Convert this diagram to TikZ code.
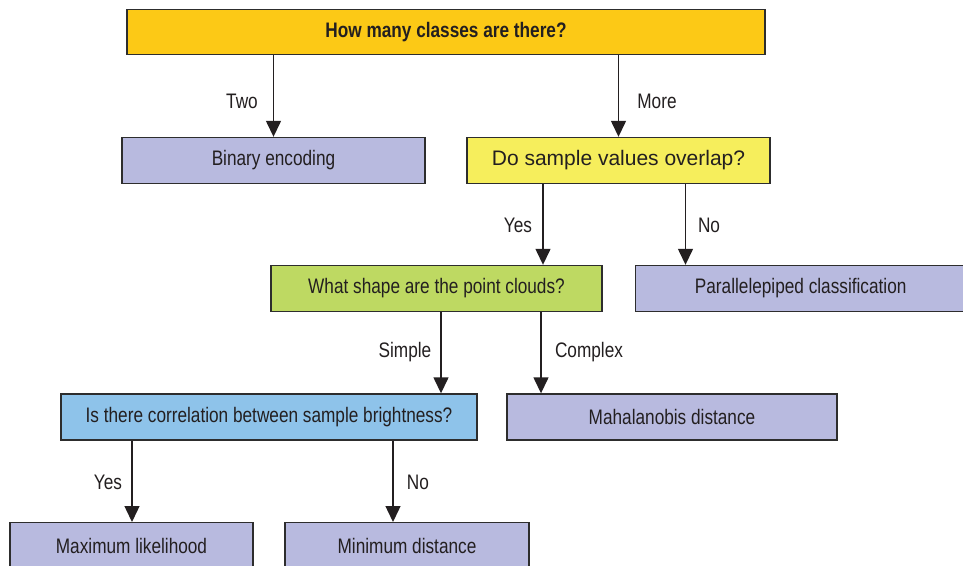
\documentclass[tikz,border=0pt]{standalone}
\usepackage{fontspec}
\usetikzlibrary{arrows.meta}
\newfontfamily\condfont{Liberation Sans}[FakeStretch=0.82]
\newfontfamily\widefont{Liberation Sans}
\definecolor{ink}{HTML}{231F20}
\definecolor{cOrange}{HTML}{FCC916}
\definecolor{cLav}{HTML}{B8BADF}
\definecolor{cYellow}{HTML}{F6EE5C}
\definecolor{cGreen}{HTML}{BED962}
\definecolor{cBlue}{HTML}{8EC3EA}
\definecolor{cLine}{HTML}{2D2D2D}
\tikzset{
  box/.style={draw=cLine, line width=1.4pt, rectangle, inner sep=0pt, text=ink,
    font=\condfont\fontsize{21}{25}\selectfont},
  lab/.style={text=ink, inner sep=0pt, font=\condfont\fontsize{21}{25}\selectfont},
  arr/.style={draw=ink, line width=1.4pt, -{Triangle[width=15pt,length=16pt]}},
}
\begin{document}
\begin{tikzpicture}[x=1pt,y=-1pt]
\clip (0,0) rectangle (963,565);
\fill[white] (0,0) rectangle (963,565);
% nodes (centres and sizes in pixels)
\node[box, fill=cOrange, minimum width=638, minimum height=45, font=\condfont\bfseries\fontsize{21}{25}\selectfont] (top) at (446,32) {How many classes are there?};
\node[box, fill=cLav, minimum width=303, minimum height=46] (bin) at (273.5,160.5) {\raisebox{-1.5pt}{Binary encoding}};
\node[box, fill=cYellow, minimum width=303, minimum height=46, font=\widefont\fontsize{21}{25}\selectfont] (ovl) at (618.5,160.5) {\raisebox{-1.5pt}{Do sample values overlap?}};
\node[box, fill=cGreen, minimum width=331, minimum height=46] (shape) at (436.5,288.5) {\raisebox{-1pt}{What shape are the point clouds?}};
\node[box, fill=cLav, minimum width=340, minimum height=46, anchor=west] (par) at (635,288.5) {\hspace*{-10pt}\raisebox{-1pt}{Parallelepiped classification}};
\node[box, fill=cBlue, minimum width=416, minimum height=46] (corr) at (269,417) {\raisebox{-1pt}{Is there correlation between sample brightness?}};
\node[box, fill=cLav, minimum width=330, minimum height=46] (maha) at (672,417) {Mahalanobis distance};
\node[box, fill=cLav, minimum width=243, minimum height=46, anchor=north] (maxl) at (131.5,522) {Maximum likelihood};
\node[box, fill=cLav, minimum width=244, minimum height=46, anchor=north] (mind) at (407,522) {Minimum distance};
% connectors
\draw[arr] (top.south -| bin.north) -- (bin.north);
\draw[arr] (top.south -| ovl.north) -- (ovl.north);
\draw[arr] (ovl.south -| 543,0) -- (shape.north -| 543,0);
\draw[arr] (ovl.south -| 685.5,0) -- (par.north -| 685.5,0);
\draw[arr] (shape.south -| 441,0) -- (corr.north -| 441,0);
\draw[arr] (shape.south -| 541,0) -- (maha.north -| 541,0);
\draw[arr] (corr.south -| 132,0) -- (maxl.north -| 132,0);
\draw[arr] (corr.south -| 393,0) -- (mind.north -| 393,0);
% labels
\node[lab] (lTwo) at (242,101) {Two};
\node[lab] (lMore) at (657,101) {More};
\node[lab] (lYes1) at (518,225) {Yes};
\node[lab] (lNo1) at (709,225) {No};
\node[lab] (lSimple) at (405,352) {Simple};
\node[lab] (lComplex) at (589,352) {Complex};
\node[lab] (lYes2) at (108,482) {Yes};
\node[lab] (lNo2) at (418,482) {No};
\end{tikzpicture}
\end{document}
